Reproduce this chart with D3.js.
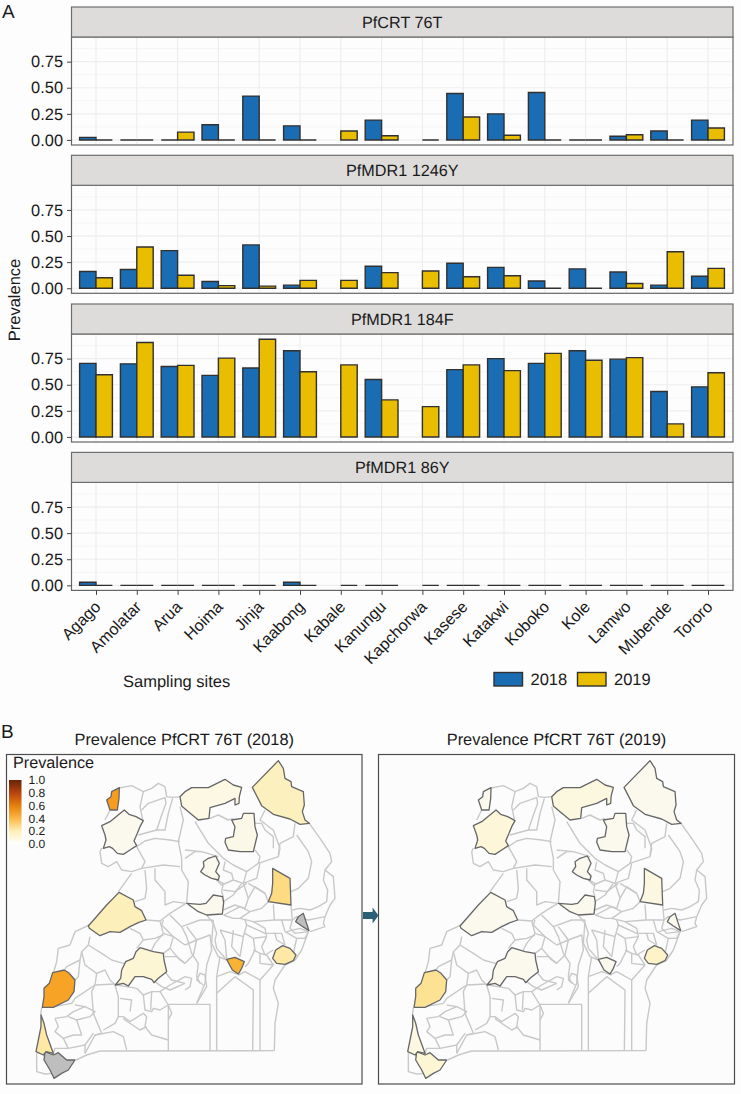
<!DOCTYPE html>
<html><head><meta charset="utf-8">
<script src="https://cdn.jsdelivr.net/npm/d3@7"></script>
<style>
html,body{margin:0;padding:0;background:#fdfdfd}
svg{display:block}
text{font-family:"Liberation Sans",Arial,sans-serif;fill:#1a1a1a;text-rendering:geometricPrecision}
</style></head><body><div id="c"></div>
<script>
const sites=["Agago","Amolatar","Arua","Hoima","Jinja","Kaabong","Kabale","Kanungu","Kapchorwa","Kasese","Katakwi","Koboko","Kole","Lamwo","Mubende","Tororo"];
const markers=["PfCRT 76T","PfMDR1 1246Y","PfMDR1 184F","PfMDR1 86Y"];
const years=["2018","2019"];
const crt2018=[.025,0,0,.145,.42,.135,null,.19,null,.445,.25,.455,0,.035,.085,.19];
const crt2019=[0,0,.075,0,0,0,.085,.04,0,.22,.045,0,0,.05,0,.115];
const m1246_2018=[.16,.18,.36,.065,.415,.03,null,.21,null,.24,.2,.07,.185,.155,.03,.115];
const m1246_2019=[.1,.395,.125,.025,.02,.075,.075,.15,.165,.11,.12,0,0,.045,.35,.19];
const m184_2018=[.705,.7,.675,.59,.66,.825,null,.55,null,.645,.75,.705,.825,.745,.435,.48];
const m184_2019=[.595,.905,.685,.755,.935,.625,.69,.355,.29,.69,.635,.8,.735,.76,.125,.615];
const m86_2018=[.03,0,0,0,0,.03,null,0,null,0,0,0,0,0,0,0];
const m86_2019=[0,0,0,0,0,0,0,0,0,0,0,0,0,0,0,0];
const seriesByMarker=[[crt2018,crt2019],[m1246_2018,m1246_2019],[m184_2018,m184_2019],[m86_2018,m86_2019]];
const yTicks=[0,.25,.5,.75];
const yMinor=[.125,.375,.625,.875];
const legendTicks=[0,.2,.4,.6,.8,1];

// district outlines in map grid units
const districtShapes={
Koboko:[[335,215],[358,203],[357,235],[352,270],[330,270],[320,240],[333,230]],
Arua:[[373,270],[387,283],[408,290],[430,302],[420,320],[412,340],[402,363],[410,377],[390,390],[370,403],[352,400],[338,385],[328,380],[310,385],[318,360],[315,345],[305,317],[330,305],[352,287]],
Lamwo:[[540,230],[555,215],[575,203],[625,203],[675,178],[700,195],[725,202],[718,230],[717,250],[705,255],[705,235],[675,250],[630,263],[627,295],[595,300],[565,275],[545,258]],
Kaabong:[[835,122],[850,145],[855,175],[873,185],[875,200],[910,215],[913,255],[907,275],[915,300],[928,310],[900,313],[870,297],[820,283],[785,257],[757,202]],
Agago:[[730,280],[762,280],[765,320],[772,345],[760,395],[720,395],[685,390],[675,367],[677,355],[700,350],[705,320],[695,300],[725,295]],
Kole:[[625,415],[647,408],[658,430],[647,455],[658,468],[655,480],[635,475],[615,465],[602,455],[612,440],[610,425]],
Amolatar:[[560,550],[600,553],[618,550],[640,525],[668,530],[671,548],[667,582],[620,585],[595,575]],
Katakwi:[[818,445],[870,475],[873,555],[805,545],[815,520],[818,490]],
Kapchorwa:[[910,580],[918,605],[927,632],[905,618],[887,605],[895,590]],
Tororo:[[848,677],[870,685],[888,705],[880,722],[855,733],[830,730],[818,715],[827,690]],
Jinja:[[680,718],[705,712],[733,725],[725,745],[715,762],[697,750]],
Hoima:[[357,517],[400,540],[405,560],[425,572],[438,600],[415,608],[390,620],[360,637],[330,635],[300,647],[268,625],[265,618],[320,555]],
Mubende:[[420,683],[460,695],[490,700],[492,720],[500,755],[475,775],[462,788],[455,778],[430,770],[405,770],[385,798],[370,790],[346,795],[362,775],[365,750],[377,725],[400,715],[408,695]],
Kasese:[[193,750],[208,760],[225,780],[222,815],[205,840],[160,862],[127,862],[132,830],[132,805],[148,790],[158,758]],
Kanungu:[[123,885],[132,910],[140,945],[160,1000],[138,995],[130,1005],[108,995],[118,945],[123,920]],
Kabale:[[135,995],[160,1005],[175,998],[200,1020],[225,1020],[205,1050],[185,1060],[162,1075],[150,1050],[132,1020]]
};
const districtLines=[
[[358,204],[395,197],[430,215],[455,205],[475,190],[495,200],[500,230],[518,232],[540,230]],
[[430,215],[420,260],[428,298]],
[[425,270],[445,250],[495,233],[498,250],[485,285],[470,330],[415,345]],
[[518,235],[505,280],[495,330],[470,330]],
[[305,384],[300,395],[305,430],[325,440],[350,425],[365,450],[395,455],[425,445],[435,425],[410,380]],
[[395,460],[355,515]],
[[410,380],[435,363],[465,355],[510,360],[540,365]],
[[435,450],[440,505],[435,535],[405,545]],
[[465,445],[465,480],[495,515],[495,555],[520,545],[558,550]],
[[425,445],[490,435],[540,440]],
[[540,260],[550,300],[535,365],[545,415],[545,450],[565,485],[560,548]],
[[585,305],[625,370],[670,415],[700,435],[740,455],[775,430],[835,410],[840,385],[820,330],[780,300],[795,270]],
[[630,295],[655,285],[685,300],[700,295]],
[[765,310],[785,310],[795,330],[820,350],[820,385]],
[[765,390],[780,410],[775,430]],
[[885,310],[880,350],[840,370],[835,405]],
[[890,345],[925,395],[935,425],[925,475],[895,505],[873,515]],
[[928,310],[960,355],[990,400],[995,425],[975,450],[1000,470],[1005,535],[990,555],[975,590],[970,610],[975,620],[930,635]],
[[975,450],[970,480],[983,510],[980,545],[955,560],[930,570],[900,565],[877,570]],
[[740,455],[730,490],[770,475],[780,430]],
[[700,480],[730,490],[745,535],[735,565],[705,555],[670,570]],
[[745,490],[795,520],[805,545]],
[[675,425],[670,450],[695,460],[700,480],[665,495],[650,480]],
[[555,415],[585,395],[605,395],[655,410]],
[[670,545],[700,525],[725,490]],
[[805,545],[785,565],[750,575],[720,595],[700,595],[670,585]],
[[720,595],[760,605],[823,600],[877,600],[890,590],[925,600],[950,595],[975,590]],
[[820,553],[823,600]],
[[873,555],[877,600],[870,625],[885,640],[925,635]],
[[620,585],[640,610],[650,640],[645,660],[650,685],[680,720]],
[[438,600],[480,603],[510,580],[558,550]],
[[480,603],[490,640],[465,670],[455,690]],
[[510,585],[545,620],[560,650],[575,700],[595,730],[590,770],[600,790]],
[[490,640],[520,650],[555,675]],
[[545,620],[600,600],[640,600]],
[[555,730],[580,705],[590,660],[560,620]],
[[590,660],[630,645],[635,690],[620,735],[615,790],[590,850]],
[[640,600],[635,670],[655,710],[680,720]],
[[660,630],[675,660],[680,715]],
[[660,630],[730,650],[720,710]],
[[740,615],[730,650]],
[[735,600],[740,615],[795,640],[825,640],[830,660]],
[[760,690],[780,700],[780,730],[820,735]],
[[760,655],[765,690],[745,730],[735,740]],
[[800,650],[785,680],[795,705]],
[[855,675],[845,640],[820,640]],
[[855,635],[890,655],[880,700]],
[[915,655],[925,635],[900,625],[860,635]],
[[925,635],[905,690],[885,720],[855,735],[825,780],[820,805],[835,850],[825,910],[823,992]],
[[823,992],[300,993],[260,1005],[228,1020]],
[[505,853],[630,853],[630,992]],
[[505,853],[505,993]],
[[650,992],[650,820],[705,770],[760,810],[758,992]],
[[780,992],[780,780],[820,735]],
[[650,770],[690,755],[715,763]],
[[660,710],[650,770],[650,820]],
[[780,780],[735,755],[715,765]],
[[590,850],[620,800],[615,765],[600,760],[590,780],[610,795]],
[[555,770],[575,775],[570,800],[555,810]],
[[268,615],[225,635],[210,675],[175,685],[170,725],[160,760]],
[[270,650],[265,675],[245,695],[240,720],[235,770],[225,780]],
[[265,675],[305,700],[335,720],[370,730],[385,725]],
[[245,695],[255,735],[290,760],[315,750],[330,780],[345,795]],
[[285,795],[225,835],[215,850],[160,860]],
[[345,792],[285,795],[275,815],[280,880],[305,940],[285,945],[255,1000]],
[[345,795],[355,830],[355,890],[370,890],[390,905],[430,880],[440,890],[435,920],[455,945],[505,960]],
[[360,835],[395,840],[390,875]],
[[430,825],[435,870],[455,875],[460,865],[480,870],[505,855]],
[[350,795],[410,805],[430,825],[455,815],[480,815],[510,795],[555,770]],
[[480,815],[505,855],[515,880],[505,900]],
[[455,815],[452,870]],
[[370,895],[375,900],[420,930],[440,920]],
[[355,890],[345,910],[310,930]],
[[285,945],[340,935],[370,950],[380,990]],
[[165,895],[200,890],[220,875],[255,860],[225,855]],
[[165,895],[175,920],[165,935],[190,955],[220,945],[245,945],[230,900],[205,890]],
[[255,860],[285,875],[270,890],[230,900]],
[[190,955],[205,985],[165,985],[160,1000]],
[[255,1000],[255,975],[280,940]],
[[255,975],[205,985]],
[[110,1000],[110,1055],[135,1062],[155,1060]],
[[125,862],[122,887]],
[[390,625],[420,640],[430,660],[410,685]],
[[430,660],[465,655],[490,645]],
[[490,700],[510,685],[520,650],[485,615],[490,600]],
[[490,750],[515,780],[555,790]],
[[465,785],[485,800],[510,810],[555,790]],
[[555,730],[530,710],[495,710]],
[[315,300],[330,270]],
[[650,480],[670,490],[665,515],[670,530]],
[[672,585],[720,560],[750,575]],
[[555,390],[605,395]],
[[670,510],[705,515],[740,490]],
[[745,535],[765,500],[795,520]],
[[700,630],[695,680],[720,710]],
[[735,640],[760,655],[800,650]],
[[780,700],[800,705],[820,735]],
[[830,660],[855,675]],
[[820,690],[795,705]],
[[890,655],[915,655]],
[[855,635],[845,600]],
[[800,650],[795,625],[760,605]],
[[290,760],[285,795]],
[[240,720],[200,740],[195,748]],
[[510,685],[540,720],[555,730]],
[[555,675],[590,660]]
];

const W=741,H=1094;
const svg=d3.select("#c").append("svg").attr("width",W).attr("height",H);

// ---------- Panel A
const panelLeft=71.5,panelRight=733,stripH=30,panelH=108;
const panelTops=[7,155.3,304,452.4];
const x=d3.scalePoint().domain(sites).range([96,708]);
const barW=16.4;
const xOff=d3.scaleOrdinal().domain(years).range([-barW,0]);
const fillYear=d3.scaleOrdinal().domain(years).range(["#1b6db3","#e9bd00"]);

panelTops.forEach((top,pi)=>{
  const pTop=top+stripH,pBot=pTop+panelH;
  const y=d3.scaleLinear().domain([-.0485,.986]).range([pBot,pTop]);
  const g=svg.append("g");
  g.append("rect").attr("x",panelLeft).attr("y",pTop).attr("width",panelRight-panelLeft).attr("height",panelH).attr("fill","#fdfdfd");
  g.selectAll(".gmin").data(yMinor).join("line").attr("x1",panelLeft).attr("x2",panelRight).attr("y1",d=>y(d)).attr("y2",d=>y(d)).attr("stroke","#f2f2f2").attr("stroke-width",.8);
  g.selectAll(".gmaj").data(yTicks).join("line").attr("x1",panelLeft).attr("x2",panelRight).attr("y1",d=>y(d)).attr("y2",d=>y(d)).attr("stroke","#eeeeee").attr("stroke-width",1.2);
  g.selectAll(".gx").data(sites).join("line").attr("x1",d=>x(d)).attr("x2",d=>x(d)).attr("y1",pTop).attr("y2",pBot).attr("stroke","#eeeeee").attr("stroke-width",1.2);
  seriesByMarker[pi].forEach((vals,si)=>{
    const yr=years[si];
    const data=sites.map((s,i)=>({s,v:vals[i]})).filter(d=>d.v!==null);
    g.selectAll(".b"+si).data(data).join("path")
      .attr("d",d=>{const p=d3.path(),x0=x(d.s)+xOff(yr);p.rect(x0,y(d.v),barW,y(0)-y(d.v));return p.toString();})
      .attr("fill",fillYear(yr)).attr("stroke","#303030").attr("stroke-width",1.4);
  });
  g.append("rect").attr("x",panelLeft).attr("y",pTop).attr("width",panelRight-panelLeft).attr("height",panelH).attr("fill","none").attr("stroke","#666").attr("stroke-width",1.2);
  g.append("rect").attr("x",panelLeft).attr("y",top).attr("width",panelRight-panelLeft).attr("height",stripH).attr("fill","#dddcda").attr("stroke","#6e6e6e").attr("stroke-width",1.2);
  g.append("text").attr("x",(panelLeft+panelRight)/2).attr("y",top+stripH/2+5.5).attr("text-anchor","middle").attr("font-size",16.2).text(markers[pi]);
  const ax=d3.axisLeft(y).tickValues(yTicks).tickFormat(d3.format(".2f")).tickSize(4.5).tickPadding(4);
  const ag=g.append("g").attr("transform",`translate(${panelLeft},0)`).call(ax);
  ag.select(".domain").remove();
  ag.selectAll("line").attr("stroke","#444");
  ag.selectAll("text").attr("font-size",16.4).attr("fill","#1a1a1a");
  if(pi===3){
    const bx=d3.axisBottom(x).tickSize(4.5).tickFormat("");
    const bg=g.append("g").attr("transform",`translate(0,${pBot})`).call(bx);
    bg.select(".domain").remove();
    bg.selectAll("line").attr("stroke","#444");
    g.selectAll(".xl").data(sites).join("text")
      .attr("transform",d=>`translate(${x(d)+1.5},${pBot+13.5}) rotate(-45)`)
      .attr("text-anchor","end").attr("font-size",16.2).attr("dy",".35em").text(d=>d);
  }
});
svg.append("text").attr("x",2).attr("y",18).attr("font-size",19).text("A");
svg.append("text").attr("transform","translate(20,300) rotate(-90)").attr("text-anchor","middle").attr("font-size",16.5).text("Prevalence");
svg.append("text").attr("x",123).attr("y",687).attr("font-size",16.5).text("Sampling sites");
const legendKeyX=d3.scaleOrdinal().domain(years).range([494,577.5]);
years.forEach(yr=>{
  svg.append("rect").attr("x",legendKeyX(yr)).attr("y",672.5).attr("width",28.5).attr("height",13.5).attr("fill",fillYear(yr)).attr("stroke","#303030").attr("stroke-width",1.4);
  svg.append("text").attr("x",legendKeyX(yr)+36.5).attr("y",684.5).attr("font-size",16.5).text(yr);
});

// ---------- Panel B
const colorDomain=[0,.1,.2,.25,.42,.46,.6,.8,1];
const colorRange=["#fbf9ee","#fdf5d0","#fde7a0","#fcdb82","#f9b233","#f59a1c","#e07c0a","#b4400f","#662506"];
const color=d3.scaleLinear().domain(colorDomain).range(colorRange);
const mapBoxes=[{x0:6.5,x1:362,shift:0,vals:crt2018,title:"Prevalence PfCRT 76T (2018)"},{x0:378.5,x1:734.5,shift:371.7,vals:crt2019,title:"Prevalence PfCRT 76T (2019)"}];
const boxTop=754.5,boxBot=1084;
const mapY=d3.scaleLinear().domain([0,1122]).range([720,1094]);
mapBoxes.forEach(b=>{
  const g=svg.append("g");
  const mapX=d3.scaleLinear().domain([0,1110]).range([b.shift,370+b.shift]);
  const line=d3.line().x(d=>mapX(d[0])).y(d=>mapY(d[1]));
  g.append("text").attr("x",(b.x0+b.x1)/2).attr("y",745).attr("text-anchor","middle").attr("font-size",16.4).text(b.title);
  g.append("rect").attr("x",b.x0).attr("y",boxTop).attr("width",b.x1-b.x0).attr("height",boxBot-boxTop).attr("fill","#fcfcfc").attr("stroke","#4d4d4d").attr("stroke-width",1.2);
  g.selectAll(".dl").data(districtLines).join("path").attr("d",line).attr("fill","none").attr("stroke","#c8c8c8").attr("stroke-width",1.4).attr("stroke-linejoin","round");
  g.selectAll(".ds").data(sites).join("path")
    .attr("d",s=>line(districtShapes[s])+"Z")
    .attr("fill",s=>{const v=b.vals[sites.indexOf(s)];return v===null?"#bebebe":color(v);})
    .attr("stroke","#666").attr("stroke-width",1.3).attr("stroke-linejoin","round");
});
svg.append("text").attr("x",1).attr("y",738).attr("font-size",19).text("B");
svg.append("text").attr("x",13).attr("y",768).attr("font-size",16.2).text("Prevalence");
const legY=d3.scaleLinear().domain([0,1]).range([844,780]);
const defs=svg.append("defs");
const grad=defs.append("linearGradient").attr("id","lg").attr("x1",0).attr("x2",0).attr("y1",1).attr("y2",0);
const legendStops=[[0,"#ffffff"],[.2,"#fef0b8"],[.4,"#fbb748"],[.6,"#e67f0c"],[.8,"#b8430f"],[1,"#662506"]];
grad.selectAll("stop").data(legendStops).join("stop").attr("offset",d=>d[0]).attr("stop-color",d=>d[1]);
svg.append("rect").attr("x",9).attr("y",legY(1)).attr("width",12.5).attr("height",legY(0)-legY(1)).attr("fill","url(#lg)");
svg.selectAll(".lt").data(legendTicks).join("text").attr("x",28.5).attr("y",d=>legY(d)+4.2).attr("font-size",12).text(d=>d.toFixed(1));

// arrow between maps
const arrowSpan=d3.scaleLinear().domain([0,1]).range([363,378.5]);
svg.append("path").attr("fill","#2a5f75").attr("d",
  d3.line()([[arrowSpan(0),912],[arrowSpan(.62),912],[arrowSpan(.62),907.5],[arrowSpan(1),915.5],[arrowSpan(.62),923.5],[arrowSpan(.62),919],[arrowSpan(0),919]])+"Z");
</script></body></html>
